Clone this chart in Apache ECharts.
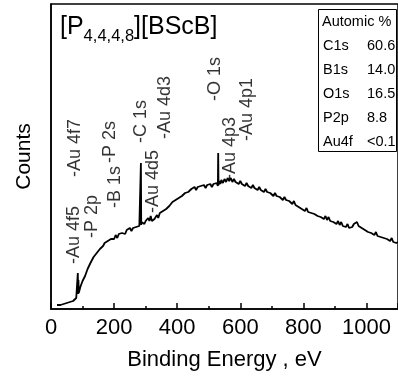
<!DOCTYPE html>
<html><head><meta charset="utf-8">
<script src="https://cdn.jsdelivr.net/npm/echarts@6/dist/echarts.min.js"></script>
<style>html,body{margin:0;padding:0;background:#fff}#c{width:398px;height:381px}</style>
</head><body><div id="c"></div>
<script>
// Survey XPS spectrum: [binding energy (eV), counts (arb.)]
const spectrum = [[19,4],[25,5],[30,4],[35,6],[40,5],[45,7],[50,6],[55,8],[60,7],[65,9],[70,8],[75,10],[80,11],[82,10],[84,12],[85,36],[86,15],[87,29],[88,16],[90,18],[93,22],[96,23],[100,28],[104,29],[108,33],[112,34],[116,40],[120,40],[125,46],[130,46],[135,52],[140,52],[145,56],[150,57],[155,60],[160,61],[165,63],[168,61],[170,66],[175,65],[180,68],[185,68],[190,70],[193,68],[195,72],[200,70],[205,74],[210,71],[215,75],[220,73],[225,76],[230,76],[235,75],[240,79],[245,77],[250,81],[255,78],[260,81],[265,80],[270,82],[275,80],[280,83],[284,82],[285,146],[286,84],[287,87],[289,89],[292,87],[296,85],[300,88],[304,87],[308,91],[312,88],[316,93],[320,88],[324,86],[328,90],[332,90],[336,94],[340,91],[345,96],[350,95],[355,98],[360,96],[365,100],[370,99],[375,103],[380,103],[385,107],[390,105],[395,109],[400,108],[405,111],[410,111],[415,113],[420,113],[425,116],[430,115],[435,117],[440,117],[445,120],[450,118],[455,122],[460,119],[465,122],[470,121],[475,123],[480,121],[485,124],[490,121],[495,124],[500,122],[505,125],[510,122],[515,125],[520,123],[525,126],[529,123],[530,156],[531,124],[534,128],[537,125],[540,129],[545,126],[550,130],[555,127],[560,131],[565,128],[570,131],[575,127],[580,130],[585,127],[590,129],[595,125],[600,128],[605,125],[610,127],[615,123],[620,126],[625,123],[630,125],[635,121],[640,124],[645,121],[650,123],[655,119],[660,122],[665,119],[670,121],[675,117],[680,120],[685,117],[690,118],[695,116],[700,117],[705,113],[710,116],[715,113],[720,114],[725,112],[730,113],[735,109],[740,112],[745,109],[750,110],[755,108],[760,109],[765,105],[770,108],[775,104],[780,106],[785,102],[790,104],[795,100],[800,102],[805,98],[810,101],[815,97],[820,99],[825,96],[830,97],[835,95],[840,96],[845,93],[850,95],[855,92],[860,94],[865,90],[870,93],[875,89],[880,92],[885,88],[890,90],[895,87],[900,89],[905,85],[910,88],[915,84],[920,87],[925,83],[930,85],[935,82],[940,85],[945,81],[950,83],[955,82],[960,85],[965,84],[970,87],[975,83],[980,84],[985,81],[990,82],[995,79],[1000,81],[1005,77],[1010,79],[1015,76],[1020,78],[1025,74],[1030,77],[1035,73],[1040,75],[1045,72],[1050,74],[1055,71],[1060,72],[1065,70],[1070,71],[1075,68],[1080,71],[1085,67],[1090,69],[1095,66],[1100,67]];

// Peak annotations: [energy anchor, counts anchor, text]
const peakLabels = [
  [72, 45, '-Au 4f5'],
  [131, 71, '-P 2p'],
  [75, 132, '-Au 4f7'],
  [203, 101, '-B 1s'],
  [188, 146, '-P 2s'],
  [284, 166, '-C 1s'],
  [325, 96, '-Au 4d5'],
  [362, 170, '-Au 4d3'],
  [519, 208, '-O 1s'],
  [569, 129, '-Au 4p3'],
  [622, 168, '-Au 4p1']
];

// Atomic composition table
const tableHeader = 'Automic %';
const elements = ['C1s', 'B1s', 'O1s', 'P2p', 'Au4f'];
const percents = ['60.6', '14.0', '16.5', '8.8', '<0.1'];

const xTicks = { min: 0, max: 1100, interval: 200 };

const FONT = 'Liberation Sans, Arial, sans-serif';
const chart = echarts.init(document.getElementById('c'), null, { renderer: 'canvas' });

const tableGraphics = [
  { type: 'rect', shape: { x: 318.5, y: 9.5, width: 78, height: 142 }, style: { fill: '#fff', stroke: '#000', lineWidth: 1 }, z: 10 },
  { type: 'text', x: 322, y: 22, style: { text: tableHeader, font: '14.5px ' + FONT, fill: '#000', textVerticalAlign: 'middle' }, z: 11 }
];
elements.forEach((el, i) => {
  const y = 46 + i * 24;
  tableGraphics.push({ type: 'text', x: 323, y: y, style: { text: el, font: '14.5px ' + FONT, fill: '#000', textVerticalAlign: 'middle' }, z: 11 });
  tableGraphics.push({ type: 'text', x: 367, y: y, style: { text: percents[i], font: '14.5px ' + FONT, fill: '#000', textVerticalAlign: 'middle' }, z: 11 });
});

const option = {
  backgroundColor: '#fff',
  animation: false,
  grid: { left: 51, top: 4, right: -5, bottom: 72, show: true, borderColor: '#000', borderWidth: 1.5, backgroundColor: 'transparent' },
  xAxis: {
    type: 'value', min: xTicks.min, max: xTicks.max, interval: xTicks.interval,
    name: 'Binding Energy , eV', nameLocation: 'middle', nameGap: 40,
    nameTextStyle: { fontFamily: FONT, fontSize: 22, color: '#000' },
    axisLine: { show: true, lineStyle: { color: '#000', width: 1.5 } },
    axisTick: { show: true, inside: true, length: 6, lineStyle: { color: '#000', width: 1.5 } },
    minorTick: { show: true, splitNumber: 2, length: 3, lineStyle: { color: '#000', width: 1.5 } },
    axisLabel: { fontFamily: FONT, fontSize: 22, color: '#000', margin: 8, showMaxLabel: false, formatter: v => String(v) },
    splitLine: { show: false }
  },
  yAxis: {
    type: 'value', min: 0, max: 305,
    name: 'Counts', nameLocation: 'middle', nameGap: 16, nameRotate: 90,
    nameTextStyle: { fontFamily: FONT, fontSize: 21, color: '#000' },
    axisLine: { show: true, lineStyle: { color: '#000', width: 1.5 } },
    axisTick: { show: false }, axisLabel: { show: false }, splitLine: { show: false }
  },
  series: [
    {
      type: 'line', data: spectrum, showSymbol: false, symbol: 'none',
      lineStyle: { color: '#000', width: 1.8 }, z: 3
    },
    {
      type: 'scatter', data: peakLabels, symbolSize: 0, z: 4,
      label: {
        show: true, position: [0, 0], rotate: 90, align: 'left', verticalAlign: 'middle',
        fontFamily: FONT, fontSize: 18, color: '#000',
        formatter: p => p.value[2]
      }
    }
  ],
  graphic: [
    {
      type: 'text', x: 60, y: 10, z: 10,
      style: {
        text: '{a|[P}{b|4,4,4,8}{a|][BScB]}',
        rich: {
          a: { fontFamily: FONT, fontSize: 25, color: '#000', verticalAlign: 'bottom', lineHeight: 30 },
          b: { fontFamily: FONT, fontSize: 16.5, color: '#000', verticalAlign: 'bottom', lineHeight: 22, padding: [0, 0, -5, 0] }
        }
      }
    }
  ].concat(tableGraphics)
};
chart.setOption(option);
</script>
</body></html>
